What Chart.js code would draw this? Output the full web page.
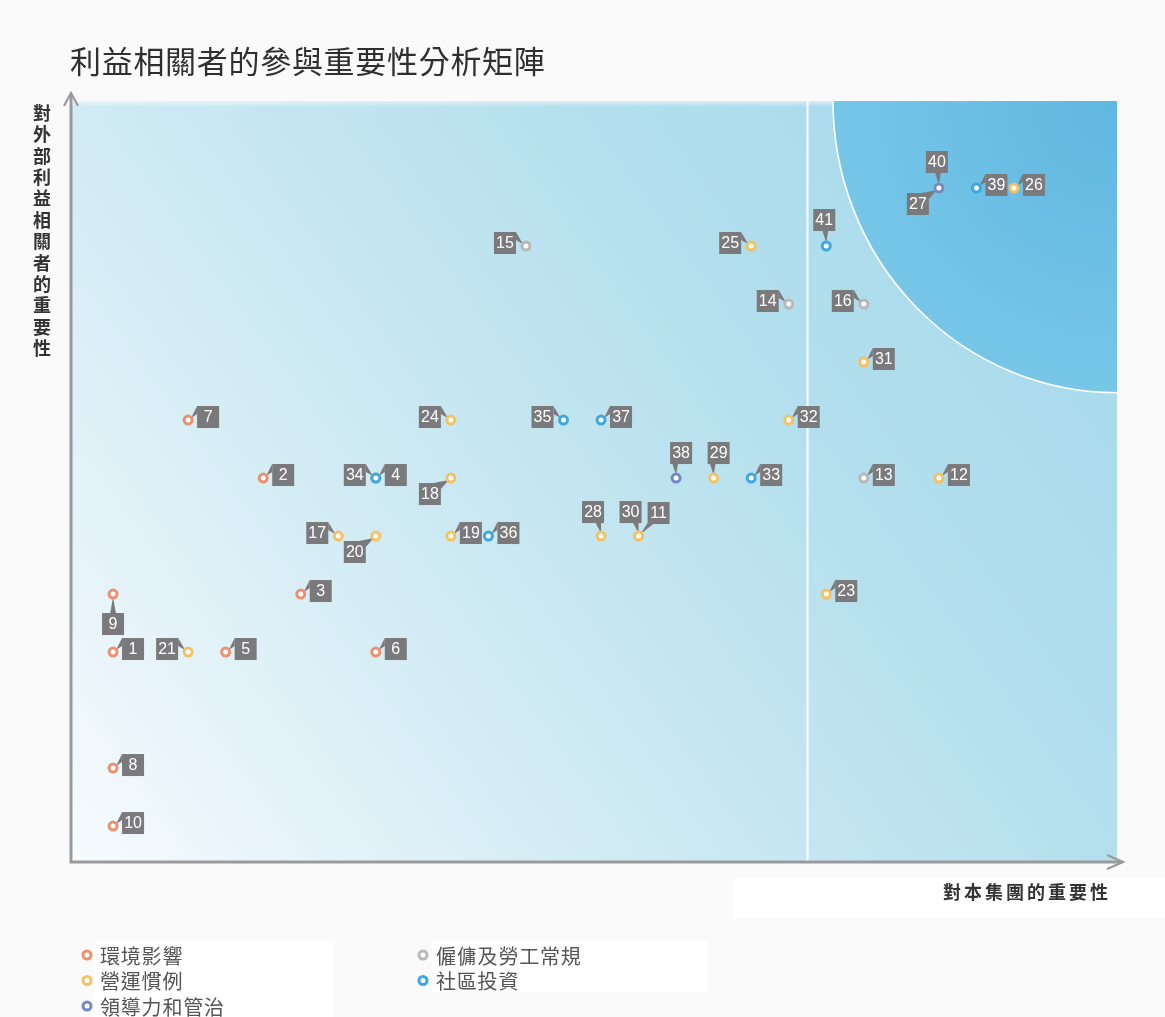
<!DOCTYPE html>
<html>
<head>
<meta charset="utf-8">
<script src="https://cdn.jsdelivr.net/npm/chart.js@4"></script>
<style>
  html, body { margin: 0; padding: 0; background: #fafafa; }
  #wrap { width: 1165px; height: 1017px; position: relative; }
</style>
</head>
<body>
<div id="wrap"><canvas id="c" width="1165" height="1017"></canvas></div>
<script>
// ---------- data ----------
const chartTitle = '利益相關者的參與重要性分析矩陣';
const yAxisTitle = '對外部利益相關者的重要性';
const xAxisTitle = '對本集團的重要性';
const categories = ['環境影響', '營運慣例', '領導力和管治', '僱傭及勞工常規', '社區投資'];
const categoryColors = ['#eb9171', '#f3c264', '#7288c8', '#b8b8ba', '#3ba8df'];
const pointIds      = [1, 2, 3, 4, 5, 6, 7, 8, 9, 10, 11, 12, 13, 14, 15, 16, 17, 18, 19, 20, 21, 23, 24, 25, 26, 27, 28, 29, 30, 31, 32, 33, 34, 35, 36, 37, 38, 39, 40, 41];
const pointX        = [1, 5, 6, 8, 4, 8, 3, 1, 1, 1, 15, 23, 21, 19, 12, 21, 7, 10, 10, 8, 3, 20, 10, 18, 25, 23, 14, 17, 15, 21, 19, 18, 8, 13, 11, 14, 16, 24, 23, 20];
const pointY        = [4, 7, 5, 7, 4, 4, 8, 2, 5, 1, 6, 7, 7, 10, 11, 10, 6, 7, 6, 6, 4, 5, 8, 11, 12, 12, 6, 7, 6, 9, 8, 7, 7, 8, 6, 8, 7, 12, 12, 11];
const pointCategory = [0, 0, 0, 0, 0, 0, 0, 0, 0, 0, 1, 1, 3, 3, 3, 3, 1, 1, 1, 1, 1, 1, 1, 1, 1, 1, 1, 1, 1, 1, 1, 4, 4, 4, 4, 4, 2, 4, 2, 4];
const labelPlacement = ['r','r','r','r','r','r','r','r','b','r','tr','r','r','l','l','l','l','bl','r','bl','l','r','l','l','r','bl','tl','tn','tl','r','r','r','l','l','r','r','tn','r','t','t'];
// guides (in axis units)
const dividerX = 19.5;
const arcLeftX = 20.18;
const arcBottomY = 8.47;
const xRange = [-0.12, 27.745];
const yRange = [0.38, 13.5];
const legendColumns = [[0, 1, 2], [3, 4]];
const drawOrder = [4, 3, 0, 2, 1]; // lower = on top

// ---------- datasets ----------
const datasets = categories.map((name, ci) => {
  const pts = [];
  pointIds.forEach((id, i) => {
    if (pointCategory[i] === ci) pts.push({ x: pointX[i], y: pointY[i], id: id, place: labelPlacement[i] });
  });
  return {
    label: name,
    data: pts,
    pointRadius: 4,
    pointHoverRadius: 4,
    borderWidth: 3,
    pointBorderWidth: 3,
    borderColor: categoryColors[ci],
    backgroundColor: '#ffffff',
    order: drawOrder[ci]
  };
});

const CJK = '"Noto Sans CJK TC", "Noto Sans CJK SC", sans-serif';

const decor = {
  id: 'decor',
  beforeDraw(chart) {
    const ctx = chart.ctx;
    ctx.save();
    ctx.fillStyle = '#fafafa';
    ctx.fillRect(0, 0, chart.width, chart.height);
    ctx.fillStyle = '#ffffff';
    ctx.fillRect(734, 878, 431, 40);
    ctx.fillRect(94, 941, 240, 76);
    ctx.fillRect(432, 941, 275, 51);
    ctx.restore();
  },
  beforeDatasetsDraw(chart) {
    const ctx = chart.ctx;
    const a = chart.chartArea;
    const xs = chart.scales.x, ys = chart.scales.y;
    ctx.save();
    // background gradient
    const g = ctx.createLinearGradient(a.left, a.bottom, a.right, a.top);
    g.addColorStop(0, '#f7fbfe');
    g.addColorStop(0.14, '#e7f4fa');
    g.addColorStop(0.35, '#d0ebf3');
    g.addColorStop(0.5, '#c2e5f0');
    g.addColorStop(0.65, '#b4dfed');
    g.addColorStop(1, '#a2d8ec');
    ctx.fillStyle = g;
    ctx.fillRect(a.left, a.top, a.right - a.left, a.bottom - a.top);
    // soft top edge
    const tg = ctx.createLinearGradient(0, a.top - 4, 0, a.top + 6);
    tg.addColorStop(0, 'rgba(250,250,250,1)');
    tg.addColorStop(1, 'rgba(250,250,250,0)');
    ctx.fillStyle = tg;
    ctx.fillRect(a.left, a.top - 4, a.right - a.left, 10);
    // quarter ellipse
    const rx = a.right - xs.getPixelForValue(arcLeftX);
    const ry = ys.getPixelForValue(arcBottomY) - a.top;
    ctx.save();
    ctx.beginPath();
    ctx.rect(a.left, a.top, a.right - a.left, a.bottom - a.top);
    ctx.clip();
    const rg = ctx.createRadialGradient(a.right, a.top, 0, a.right, a.top, Math.max(rx, ry));
    rg.addColorStop(0, '#60b7e1');
    rg.addColorStop(1, '#77c6e8');
    ctx.fillStyle = rg;
    ctx.beginPath();
    ctx.ellipse(a.right, a.top, rx, ry, 0, 0, Math.PI * 2);
    ctx.fill();
    ctx.strokeStyle = '#ffffff';
    ctx.lineWidth = 1.6;
    ctx.beginPath();
    ctx.ellipse(a.right, a.top, rx, ry, 0, Math.PI / 2, Math.PI);
    ctx.stroke();
    ctx.restore();
    // divider
    const dx = Math.round(xs.getPixelForValue(dividerX)) + 0.5;
    ctx.strokeStyle = '#ffffff';
    ctx.lineWidth = 2;
    ctx.beginPath();
    ctx.moveTo(dx, a.top);
    ctx.lineTo(dx, a.bottom);
    ctx.stroke();
    // labels (drawn below points)
    const W = 22, H = 22;
    ctx.font = '16px "Liberation Sans", Arial, sans-serif';
    ctx.textAlign = 'center';
    ctx.textBaseline = 'middle';
    chart.data.datasets.forEach(ds => {
      ds.data.forEach(p => {
        const px = xs.getPixelForValue(p.x), py = ys.getPixelForValue(p.y);
        let bx, by, tail;
        switch (p.place) {
          case 'r': bx = px + 9; by = py - 14; tail = [[px + 3, py - 2], [bx, by], [bx, by + 8]]; break;
          case 'l': bx = px - 10 - W; by = py - 14; tail = [[px - 3, py - 2], [bx + W, by], [bx + W, by + 8]]; break;
          case 'bl': bx = px - 10 - W; by = py + 5; tail = [[px - 2, py + 2], [bx + W, by + 6], [bx + W - 7, by]]; break;
          case 'b': bx = px - 11; by = py + 19; tail = [[px, py + 3], [px - 3, by + 1], [px + 3, by + 1]]; break;
          case 't': bx = px - 13; by = py - 37; tail = [[px, py - 3], [px - 4, by + H - 1], [px + 2, by + H - 1]]; break;
          case 'tn': bx = px - 6; by = py - 36; tail = [[px, py - 3], [px - 4, by + H - 1], [px + 2, by + H - 1]]; break;
          case 'tl': bx = px + 3 - W; by = py - 35; tail = [[px, py - 3], [px - 6, by + H - 1], [px, by + H - 1]]; break;
          case 'tr': bx = px + 9; by = py - 34; tail = [[px + 2, py - 2], [bx, by + H - 1], [bx + 7, by + H - 1]]; break;
        }
        ctx.fillStyle = '#7a7a7c';
        ctx.beginPath();
        ctx.moveTo(tail[0][0], tail[0][1]);
        ctx.lineTo(tail[1][0], tail[1][1]);
        ctx.lineTo(tail[2][0], tail[2][1]);
        ctx.closePath();
        ctx.fill();
        ctx.fillRect(bx, by, W, H);
        ctx.fillStyle = '#ffffff';
        ctx.fillText(String(p.id), bx + W / 2, by + H / 2 + 1);
      });
    });
    ctx.restore();
  },
  afterDraw(chart) {
    const ctx = chart.ctx;
    const a = chart.chartArea;
    ctx.save();
    // axes
    ctx.strokeStyle = '#9a9a9c';
    ctx.lineWidth = 3;
    ctx.lineCap = 'butt';
    ctx.beginPath();
    ctx.moveTo(a.left, a.bottom + 1.5);
    ctx.lineTo(a.left, a.top - 7);
    ctx.moveTo(a.left - 1.5, a.bottom);
    ctx.lineTo(a.right + 5, a.bottom);
    ctx.stroke();
    ctx.lineWidth = 2.2;
    ctx.lineJoin = 'miter';
    ctx.beginPath();
    ctx.moveTo(a.left - 7, a.top + 5);
    ctx.lineTo(a.left, a.top - 8);
    ctx.lineTo(a.left + 7, a.top + 5);
    ctx.moveTo(a.right - 10, a.bottom - 7);
    ctx.lineTo(a.right + 6, a.bottom);
    ctx.lineTo(a.right - 10, a.bottom + 7);
    ctx.stroke();
    // title
    ctx.fillStyle = '#2f2f2f';
    ctx.font = '400 31px ' + CJK;
    ctx.textAlign = 'left';
    ctx.textBaseline = 'middle';
    Array.from(chartTitle).forEach((ch, i) => ctx.fillText(ch, 70 + i * 31.7, 61));
    // y axis title (stacked)
    ctx.fillStyle = '#333333';
    ctx.font = 'bold 18px ' + CJK;
    ctx.textAlign = 'center';
    Array.from(yAxisTitle).forEach((ch, i) => ctx.fillText(ch, 42, 113 + i * 21.4));
    // x axis title
    const xchars = Array.from(xAxisTitle);
    xchars.forEach((ch, i) => ctx.fillText(ch, 1108 - 9 - (xchars.length - 1 - i) * 21, 892));
    // legend
    ctx.font = '20px ' + CJK;
    ctx.textAlign = 'left';
    const colX = [87, 423];
    legendColumns.forEach((col, c) => {
      col.forEach((ci, r) => {
        const y = 955 + r * 25.5;
        ctx.beginPath();
        ctx.arc(colX[c], y, 4, 0, Math.PI * 2);
        ctx.fillStyle = '#ffffff';
        ctx.fill();
        ctx.lineWidth = 3;
        ctx.strokeStyle = categoryColors[ci];
        ctx.stroke();
        ctx.fillStyle = '#555555';
        Array.from(categories[ci]).forEach((ch, k) => ctx.fillText(ch, colX[c] + 13 + k * 20.8, y + 1));
      });
    });
    ctx.restore();
  }
};

new Chart(document.getElementById('c'), {
  type: 'scatter',
  data: { datasets: datasets },
  options: {
    responsive: false,
    animation: false,
    events: [],
    layout: { padding: { left: 71, top: 101, right: 48, bottom: 155 } },
    scales: {
      x: { type: 'linear', display: false, min: xRange[0], max: xRange[1] },
      y: { type: 'linear', display: false, min: yRange[0], max: yRange[1] }
    },
    plugins: {
      legend: { display: false },
      title: { display: false },
      tooltip: { enabled: false }
    }
  },
  plugins: [decor]
});
</script>
</body>
</html>
